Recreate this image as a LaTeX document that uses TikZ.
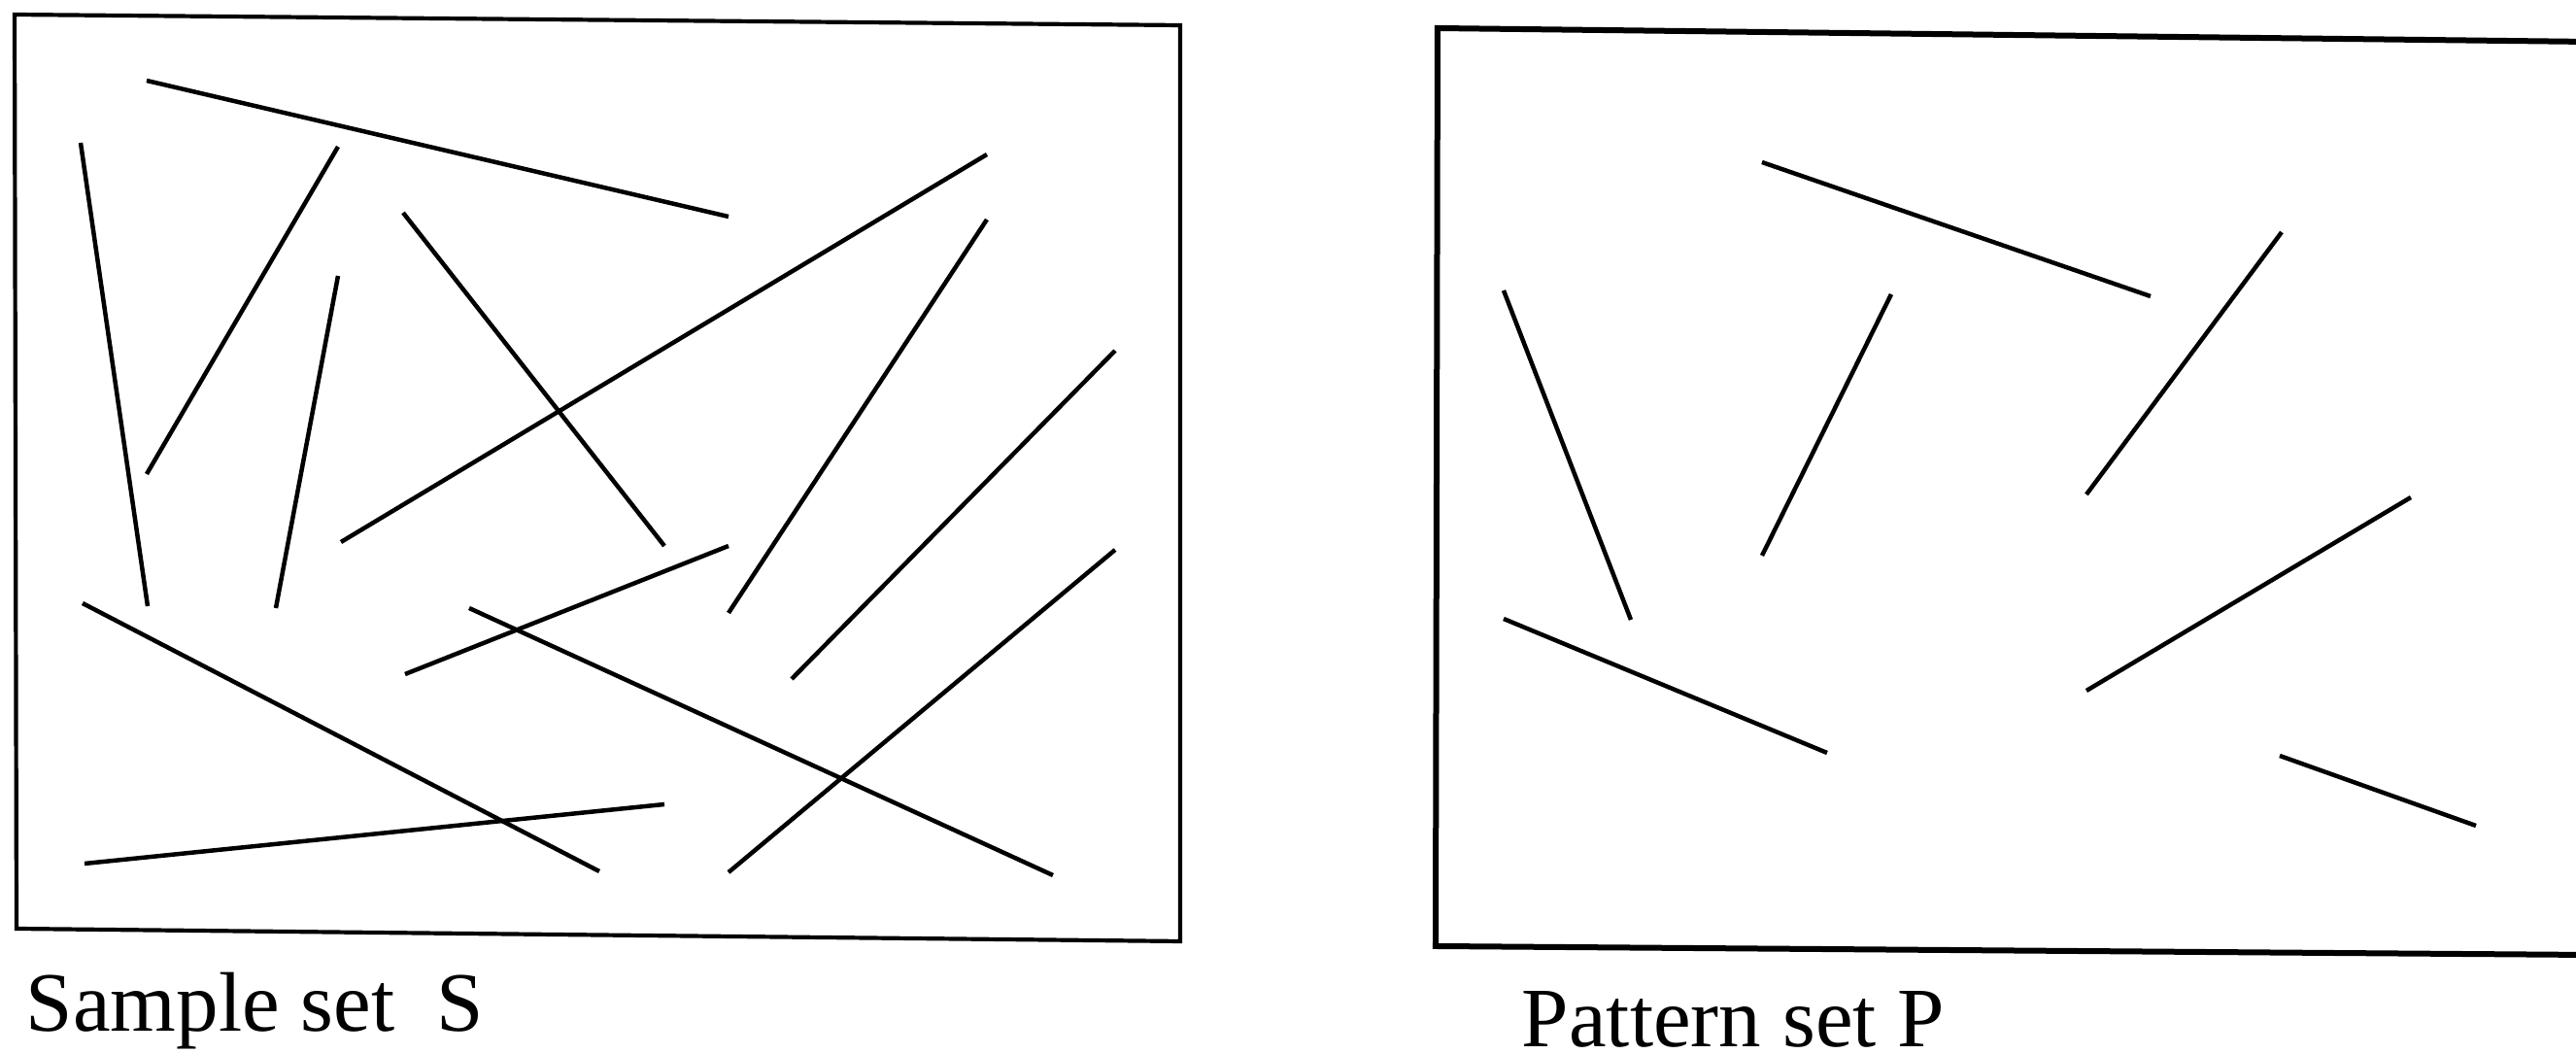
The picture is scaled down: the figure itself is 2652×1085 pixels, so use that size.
\documentclass[tikz,border=0pt]{standalone}
\usepackage{fontspec}
\setmainfont{Liberation Serif}
\begin{document}
\begin{tikzpicture}[x=0.1pt,y=-0.1pt,
  frameS/.style={line width=0.42pt,line join=miter},
  frameP/.style={line width=0.6pt,line join=miter},
  seg/.style={line width=0.45pt},
  lbl/.style={inner sep=0pt,anchor=base west,font=\fontsize{8.7}{10}\selectfont}]
\useasboundingbox (0,0) rectangle (2652,1085);
% Sample set frame
\draw[frameS] (15,15) -- (1215,26) -- (1215,969) -- (17,956) -- cycle;
% Sample segments
\draw[seg] (151,83) -- (750,223);
\draw[seg] (83,147) -- (152,624);
\draw[seg] (348,151) -- (151,488);
\draw[seg] (348,284) -- (284,626);
\draw[seg] (415,219) -- (684,562);
\draw[seg] (1016,159) -- (351,558);
\draw[seg] (1016,226) -- (750,631);
\draw[seg] (1148,361) -- (815,699);
\draw[seg] (750,562) -- (417,694);
\draw[seg] (483,626) -- (1084,901);
\draw[seg] (85,621) -- (617,897);
\draw[seg] (87,889) -- (684,828);
\draw[seg] (1148,566) -- (750,898);
% Pattern set frame (open on the right, runs off the page)
\draw[frameP] (2665,43) -- (1480,29) -- (1478,974) -- (2665,983);
% Pattern segments
\draw[seg] (1814,167) -- (2214,305);
\draw[seg] (1548,299) -- (1679,638);
\draw[seg] (1947,303) -- (1814,572);
\draw[seg] (2349,239) -- (2148,509);
\draw[seg] (1548,637) -- (1881,775);
\draw[seg] (2482,512) -- (2148,711);
\draw[seg] (2347,778) -- (2549,850);
% Labels
\node[lbl] (labS) at (25,1062) {Sample set\ \ S};
\node[lbl] (labP) at (1565,1078) {Pattern set P};
\end{tikzpicture}
\end{document}
